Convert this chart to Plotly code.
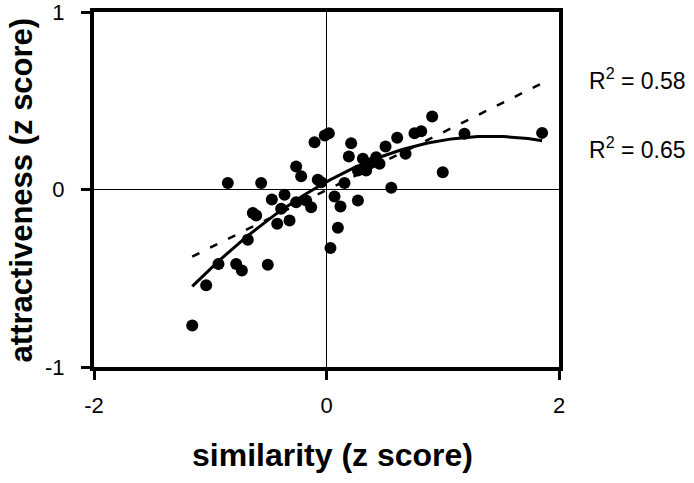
import numpy as np
import plotly.graph_objects as go

# scatter data (z scores)
similarity = [-1.155, -1.035, -0.929, -0.777, -0.728, -0.505, -0.677, -0.634, -0.605, -0.470,
              -0.361, -0.424, -0.318, -0.390, -0.261, -0.175, -0.132, -0.849, -0.562, -0.261,
              -0.218, -0.103, -0.015, 0.020, -0.075, -0.046, 0.155, 0.069, 0.120, 0.098,
              0.034, 0.270, 0.557, 0.212, 0.192, 0.313, 0.270, 0.341, 0.427, 0.456,
              0.370, 0.508, 0.608, 0.680, 0.757, 0.815, 0.909, 1.000, 1.187, 1.855]
attractiveness = [-0.766, -0.540, -0.420, -0.420, -0.456, -0.424, -0.283, -0.133, -0.146, -0.056,
                  -0.030, -0.193, -0.175, -0.109, -0.072, -0.062, -0.100, 0.036, 0.036, 0.130,
                  0.075, 0.266, 0.304, 0.317, 0.055, 0.041, 0.036, -0.039, -0.096, -0.216,
                  -0.329, -0.062, 0.010, 0.261, 0.186, 0.173, 0.107, 0.107, 0.182, 0.145,
                  0.147, 0.242, 0.291, 0.201, 0.317, 0.328, 0.411, 0.097, 0.314, 0.319]

x_ticks = [-2, 0, 2]
y_ticks = [-1, 0, 1]
r2_labels = ["R<sup>2</sup> = 0.58", "R<sup>2</sup> = 0.65"]

xs = np.array(similarity)
ys = np.array(attractiveness)
xline = np.linspace(xs.min(), xs.max(), 100)
lin = np.polyval(np.polyfit(xs, ys, 1), xline)
quad = np.polyval(np.polyfit(xs, ys, 2), xline)

fig = go.Figure()
fig.add_trace(go.Scatter(x=xs, y=ys, mode="markers",
                         marker=dict(color="black", size=12), showlegend=False))
fig.add_trace(go.Scatter(x=xline, y=lin, mode="lines",
                         line=dict(color="black", width=2.5, dash="8px,12px"), showlegend=False))
fig.add_trace(go.Scatter(x=xline, y=quad, mode="lines",
                         line=dict(color="black", width=3), showlegend=False))

FONT = "Liberation Sans, Arial, Helvetica"
axis_common = dict(showgrid=False, zeroline=True, zerolinecolor="black", zerolinewidth=1,
                   showline=True, linecolor="black", linewidth=4, mirror=True,
                   ticks="outside", ticklen=9, tickwidth=3, tickcolor="black",
                   automargin=False, ticklabeloverflow="allow",
                   tickfont=dict(family=FONT, size=22, color="black"))

fig.update_xaxes(range=[-2, 2], tickvals=x_ticks, ticktext=[str(v) for v in x_ticks],
                 ticklabelstandoff=7, **axis_common)
fig.update_yaxes(range=[-1, 1], tickvals=y_ticks, ticktext=[str(v) for v in y_ticks],
                 ticklabelstandoff=12, **axis_common)

fig.update_layout(
    width=694, height=483,
    margin=dict(l=94, r=135, t=12, b=116),
    plot_bgcolor="white", paper_bgcolor="white",
    font=dict(family=FONT, color="black"),
    annotations=[
        dict(text="<b>similarity (z score)</b>", x=0.513, xref="paper", y=-0.248, yref="paper",
             xanchor="center", yanchor="middle", showarrow=False, font=dict(size=32)),
        dict(text="<b>attractiveness (z score)</b>", x=-0.155, xref="paper", y=0.5, yref="paper",
             textangle=-90, showarrow=False, font=dict(size=31), xanchor="center", yanchor="middle"),
        dict(text=r2_labels[0], x=1.06, xref="paper", y=0.811, yref="paper", xanchor="left",
             yanchor="middle", showarrow=False, font=dict(size=23)),
        dict(text=r2_labels[1], x=1.06, xref="paper", y=0.617, yref="paper", xanchor="left",
             yanchor="middle", showarrow=False, font=dict(size=23)),
    ],
)
fig.write_html("out.html", config={"displayModeBar": False},
               post_script="document.body.style.margin='0';")
